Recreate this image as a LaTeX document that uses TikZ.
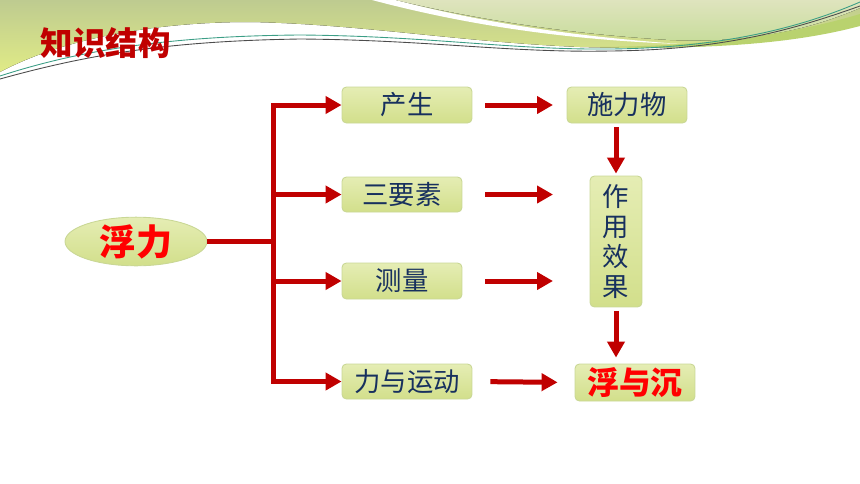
\documentclass[tikz,border=0pt]{standalone}
\usepackage{fontspec}
\setmainfont{Noto Sans CJK SC}
\usetikzlibrary{positioning,arrows.meta,shapes.geometric}
\definecolor{arrowred}{HTML}{C00000}
\definecolor{labelred}{HTML}{FF0000}
\definecolor{textnavy}{HTML}{17305E}
\definecolor{boxtop}{HTML}{E5EDB4}
\definecolor{boxbot}{HTML}{D2DF8B}
\definecolor{boxedge}{HTML}{C9D795}
\definecolor{swooshtop}{HTML}{BECB90}
\definecolor{swooshbot}{HTML}{E0EB86}
\definecolor{palegreen}{HTML}{DFE4BE}
\definecolor{leafgreen}{HTML}{C6DC99}
\definecolor{leafdark}{HTML}{B9D26E}
\definecolor{tealline}{HTML}{3C9E86}
\tikzset{
  box/.style={rectangle,rounded corners=2.5pt,draw=boxedge,line width=0.5pt,top color=boxtop,bottom color=boxbot,
              minimum width=2.6cm,minimum height=0.72cm,inner sep=0,text=textnavy,font=\fontsize{15}{17}\selectfont},
  root/.style={ellipse,draw=boxedge,line width=0.5pt,top color=boxtop,bottom color=boxbot,
               minimum width=2.84cm,minimum height=0.94cm,inner sep=0,text=labelred,font=\bfseries\fontsize{20.5}{22}\selectfont},
  heading/.style={text=arrowred,font=\bfseries\fontsize{18.5}{20}\selectfont},
  trunk/.style={line width=0.1cm,draw=arrowred},
  arrow/.style={-{Triangle[length=0.32cm,width=0.34cm]},line width=0.1cm,draw=arrowred},
  thinline/.style={line width=0.5pt},
}
\begin{document}
\begin{tikzpicture}[x=0.02cm,y=-0.02cm]
  \useasboundingbox (0,0) rectangle (860,484);
  % swooshes along the top
  \fill[top color=swooshtop,bottom color=swooshbot] (0,0) -- (860,0) -- (860,25)
    .. controls (780,45) and (680,50) .. (580,47) .. controls (460,42) and (360,24) .. (250,22)
    .. controls (150,22) and (60,40) .. (0,72) -- cycle;
  \fill[top color=palegreen,bottom color=leafgreen] (395,0) .. controls (480,20) and (570,34) .. (670,40)
    .. controls (760,44) and (820,25) .. (860,8) -- (860,0) -- cycle;
  \fill[white] (372,0) .. controls (470,26) and (570,40) .. (680,44)
    .. controls (570,36) and (480,22) .. (395,0) -- cycle;
  \fill[leafdark] (600,47) .. controls (720,46) and (800,32) .. (860,14) -- (860,26)
    .. controls (800,42) and (720,50) .. (600,47) -- cycle;
  \draw[thinline,tealline] (0,76) .. controls (80,50) and (170,36) .. (300,35)
    .. controls (430,36) and (510,50) .. (610,49) .. controls (720,48) and (800,28) .. (860,2);
  \draw[thinline,black!70] (0,79) .. controls (90,54) and (170,41) .. (300,39)
    .. controls (430,40) and (510,53) .. (610,51) .. controls (720,50) and (790,31) .. (860,6);
  % title
  \node[heading] (title) at (106,43) {知识结构};
  % the map
  \node[root] (buoy) at (136,241.5) {浮力};
  \node[box] (gen) at (407,105) {产生};
  \node[box,minimum width=2.4cm,minimum height=0.7cm] (elem) at (402,194.5) {三要素};
  \node[box,minimum width=2.4cm] (meas) at (402,281) {测量};
  \node[box,minimum height=0.7cm] (motion) at (407,381.5) {力与运动};
  \node[box,minimum width=2.4cm] (agent) at (627,105) {施力物};
  \node[box,minimum width=1.04cm,minimum height=2.62cm,align=center] (effect) at (616,241.5) {作\\用\\效\\果};
  \node[box,minimum width=2.4cm,minimum height=0.74cm,text=labelred,font=\bfseries\fontsize{18}{20}\selectfont] (sink) at (635,382.5) {浮与沉};
  % fork out of the root
  \coordinate (fork) at (273,241.5);
  \draw[trunk] (buoy.east) -- (fork);
  \draw[arrow] (fork) |- (gen.west);
  \draw[arrow] (fork) |- (motion.west);
  \draw[arrow] (fork |- elem.west) -- (elem.west);
  \draw[arrow] (fork |- meas.west) -- (meas.west);
  % middle column of arrows
  \coordinate (colin) at (485,0);
  \coordinate (colout) at (553,0);
  \foreach \n in {gen,elem,meas} { \draw[arrow] (\n -| colin) -- (\n -| colout); }
  \draw[arrow,shorten <=0.36cm,shorten >=0.34cm] (motion.east) -- (sink.west);
  % down the right column
  \draw[arrow,shorten <=0.08cm,shorten >=0.04cm] (agent.south -| effect) -- (effect.north);
  \draw[arrow,shorten <=0.07cm,shorten >=0.12cm] (effect.south) -- (sink.north -| effect);
\end{tikzpicture}
\end{document}
